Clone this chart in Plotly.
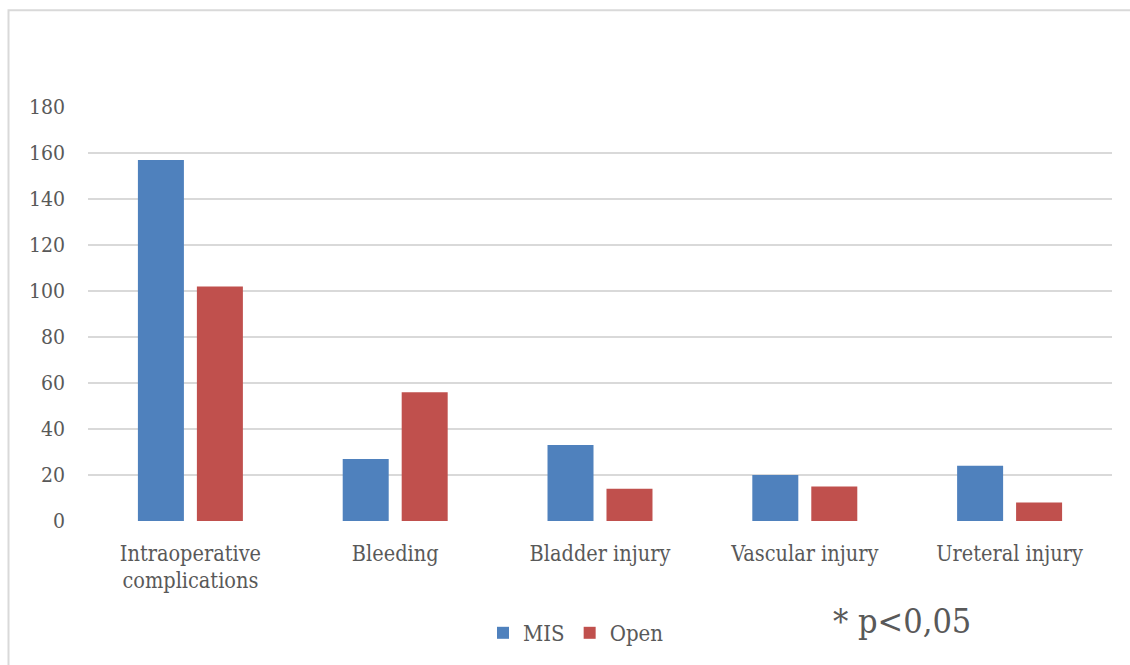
import plotly.graph_objects as go

categories = ["Intraoperative<br>complications", "Bleeding", "Bladder injury",
              "Vascular injury", "Ureteral injury"]
mis_values = [157, 27, 33, 20, 24]
open_values = [102, 56, 14, 15, 8]
y_ticks = [0, 20, 40, 60, 80, 100, 120, 140, 160, 180]

FONT = "DejaVu Serif Condensed, DejaVu Serif"
TEXT = "#595959"

fig = go.Figure()
fig.add_trace(go.Bar(name="MIS", x=categories, y=mis_values,
                     marker=dict(color="#4F81BD", line=dict(width=0))))
fig.add_trace(go.Bar(name="Open", x=categories, y=open_values,
                     marker=dict(color="#C0504D", line=dict(width=0))))

W, H = 1130, 665
L, R, T, B = 88, 18, 107, 143
pw, ph = W - L - R, H - T - B

def px_x(x):
    return (x - L) / pw

def px_y(y):
    return (H - B - y) / ph

fig.update_layout(
    width=W, height=H,
    margin=dict(l=L, r=R, t=T, b=B),
    paper_bgcolor="white", plot_bgcolor="white",
    barmode="group", bargap=0.424, bargroupgap=0.22,
    font=dict(family=FONT, color=TEXT, size=21),
    xaxis=dict(showgrid=False, showline=False, zeroline=False,
               tickfont=dict(size=21.5, color=TEXT), ticks="", ticklabelstandoff=17),
    yaxis=dict(range=[0, 180], tickvals=y_ticks, showgrid=True,
               gridcolor="#D9D9D9", gridwidth=2, zeroline=False, showline=False,
               tickfont=dict(size=21, color=TEXT), ticks="", ticklabelstandoff=22),
    legend=dict(orientation="h", x=px_x(576), y=px_y(633), xanchor="center",
                yanchor="middle", font=dict(size=22, color=TEXT),
                itemwidth=30, traceorder="normal"),
    shapes=[dict(type="rect", xref="paper", yref="paper",
                 x0=px_x(8.5), x1=px_x(1140), y0=px_y(675), y1=px_y(10),
                 line=dict(color="#D9D9D9", width=2), layer="below")],
    annotations=[dict(text="* p<0,05", xref="paper", yref="paper",
                      x=px_x(902), y=px_y(622), xanchor="center", yanchor="middle",
                      showarrow=False, font=dict(size=34, color=TEXT, family=FONT))],
)

fig.write_html("out.html")
